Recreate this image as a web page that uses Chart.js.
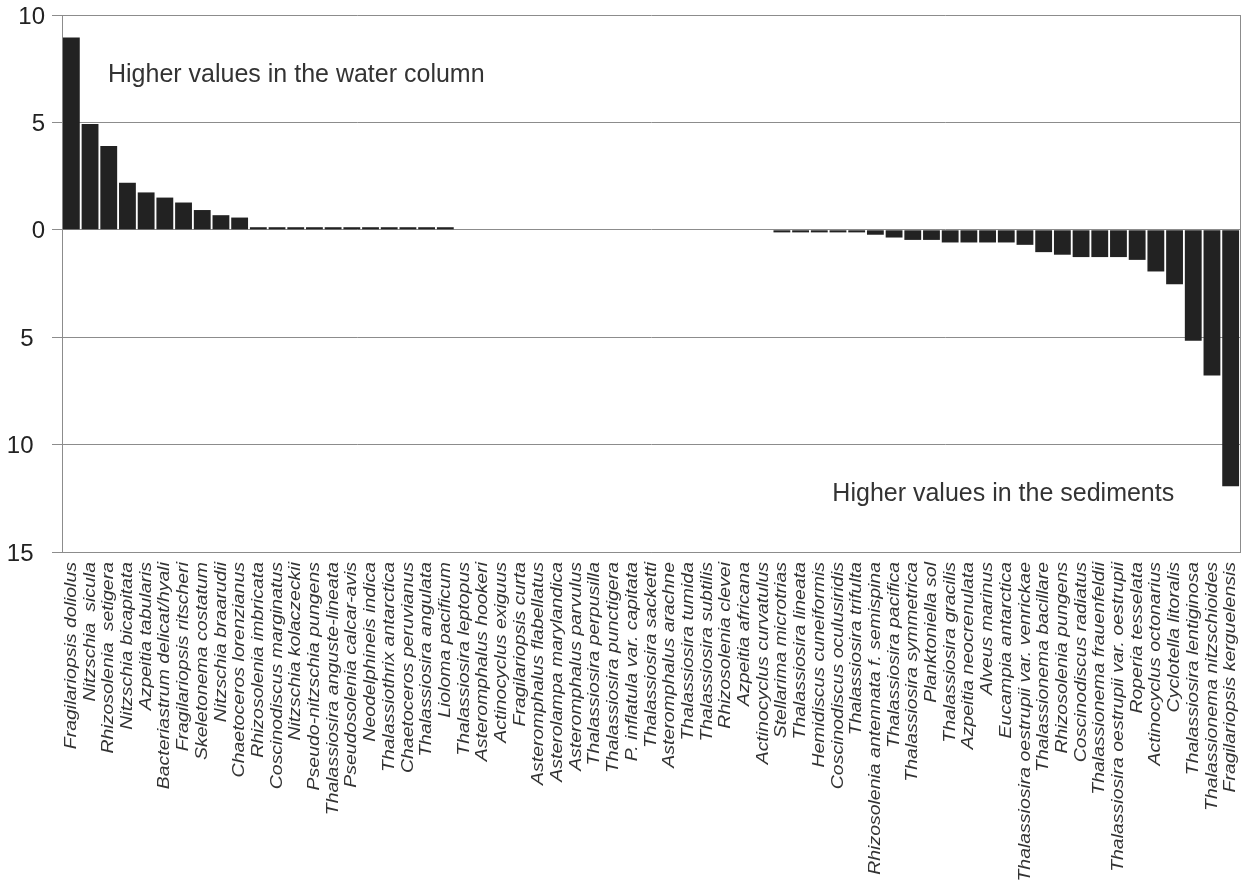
<!DOCTYPE html>
<html>
<head>
<meta charset="utf-8">
<script src="https://cdn.jsdelivr.net/npm/chart.js@4"></script>
<style>
  body { margin: 0; background: #fff; }
  canvas { display: block; }
</style>
</head>
<body>
<canvas id="diatoms" width="1249" height="882"></canvas>
<script>
// species, sorted from water column (positive) to sediments (negative)
var species = [
  "Fragilariopsis doliolus", "Nitzschia  sicula", "Rhizosolenia  setigera", "Nitzschia bicapitata",
  "Azpeitia tabularis", "Bacteriastrum delicat/hyali", "Fragilariopsis ritscheri", "Skeletonema costatum",
  "Nitzschia braarudii", "Chaetoceros lorenzianus", "Rhizosolenia imbricata", "Coscinodiscus marginatus",
  "Nitzschia kolaczeckii", "Pseudo-nitzschia pungens", "Thalassiosira anguste-lineata", "Pseudosolenia calcar-avis",
  "Neodelphineis indica", "Thalassiothrix antarctica", "Chaetoceros peruvianus", "Thalassiosira angulata",
  "Lioloma pacificum", "Thalassiosira leptopus", "Asteromphalus hookeri", "Actinocyclus exiguus",
  "Fragilariopsis curta", "Asteromphalus flabellatus", "Asterolampa marylandica", "Asteromphalus parvulus",
  "Thalassiosira perpusilla", "Thalassiosira punctigera", "P. inflatula var. capitata", "Thalassiosira sacketti",
  "Asteromphalus arachne", "Thalassiosira tumida", "Thalassiosira subtilis", "Rhizosolenia clevei",
  "Azpeitia africana", "Actinocyclus curvatulus", "Stellarima microtrias", "Thalassiosira lineata",
  "Hemidiscus cuneiformis", "Coscinodiscus oculusiridis", "Thalassiosira trifulta", "Rhizosolenia antennata f. semispina",
  "Thalassiosira pacifica", "Thalassiosira symmetrica", "Planktoniella sol", "Thalassiosira gracilis",
  "Azpeitia neocrenulata", "Alveus marinus", "Eucampia antarctica", "Thalassiosira oestrupii var. venrickae",
  "Thalassionema bacillare", "Rhizosolenia pungens", "Coscinodiscus radiatus", "Thalassionema frauenfeldii",
  "Thalassiosira oestrupii var. oestrupii", "Roperia tesselata", "Actinocyclus octonarius", "Cyclotella litoralis",
  "Thalassiosira lentiginosa", "Thalassionema nitzschioides", "Fragilariopsis kerguelensis"
];

var values = [
  8.95, 4.93, 3.9, 2.19, 1.74, 1.5, 1.27, 0.92, 0.68, 0.57,
  0.12, 0.12, 0.12, 0.12, 0.12, 0.12, 0.12, 0.12, 0.12, 0.12, 0.12,
  0, 0, 0, 0, 0, 0, 0, 0, 0, 0, 0, 0, 0, 0, 0, 0, 0,
  -0.12, -0.12, -0.12, -0.12, -0.12, -0.23, -0.36, -0.47, -0.47,
  -0.59, -0.59, -0.59, -0.59, -0.7, -1.04, -1.16, -1.27, -1.27, -1.27,
  -1.4, -1.94, -2.53, -5.16, -6.78, -11.94
];

var yTicks = [-15, -10, -5, 0, 5, 10];

// text notes: [text, category position, value]
var notes = [
  ["Higher values in the water column", 1.96, 7.2],
  ["Higher values in the sediments", 40.7, -12.3]
];

var fontFamily = "'Liberation Sans', Arial, sans-serif";
var gridColor = "#8c8c8c";

// notes in the plot, and the species names (drawn a bit stretched, like the original)
var textPlugin = {
  id: 'texts',
  afterDraw: function(chart) {
    var ctx = chart.ctx;
    var xs = chart.scales.x, ys = chart.scales.y;
    ctx.save();
    ctx.font = "25px " + fontFamily;
    ctx.fillStyle = "#333";
    ctx.textAlign = "left";
    ctx.textBaseline = "middle";
    notes.forEach(function(n) {
      ctx.fillText(n[0], xs.getPixelForValue(n[1]), ys.getPixelForValue(n[2]));
    });
    ctx.restore();

    ctx.save();
    ctx.font = "italic 16.5px " + fontFamily;
    ctx.fillStyle = "#333";
    ctx.textAlign = "right";
    ctx.textBaseline = "middle";
    var top = chart.chartArea.bottom + 10;
    species.forEach(function(name, i) {
      ctx.save();
      ctx.translate(xs.getPixelForValue(i), top);
      ctx.rotate(-Math.PI / 2);
      ctx.scale(1.18, 1);
      ctx.fillText(name, 0, 0);
      ctx.restore();
    });
    ctx.restore();
  }
};

var ctx = document.getElementById('diatoms').getContext('2d');
var chart = new Chart(ctx, {
  type: 'bar',
  data: {
    labels: species,
    datasets: [{
      data: values,
      backgroundColor: "#222222",
      borderWidth: 0,
      barPercentage: 0.9,
      categoryPercentage: 1.0
    }]
  },
  options: {
    responsive: false,
    animation: false,
    layout: { padding: { top: 15, right: 9, left: 0, bottom: 0 } },
    plugins: { legend: { display: false }, tooltip: { enabled: false } },
    scales: {
      x: {
        grid: { display: false, drawTicks: false },
        border: { display: true, color: gridColor, width: 1 },
        ticks: { display: false },
        afterFit: function(scale) { scale.height = 330; }
      },
      y: {
        min: -15,
        max: 10,
        afterBuildTicks: function(scale) {
          scale.ticks = yTicks.map(function(v) { return { value: v }; });
        },
        grid: { color: gridColor, lineWidth: 1, tickLength: 10, drawTicks: true },
        border: { display: true, color: gridColor, width: 1 },
        ticks: {
          padding: 7,
          labelOffset: 2,
          color: "#222",
          font: { family: fontFamily, size: 24 },
          // below zero the original shows plain numbers, set a bit further left
          callback: function(v) { return v < 0 ? Math.abs(v) + " \u2009" : String(v); }
        },
        afterFit: function(scale) {
          scale.width = 62;
          scale.paddingTop = 0;
          scale.paddingBottom = 0;
        }
      },
      y2: {
        position: 'right',
        min: -15,
        max: 10,
        grid: { display: false },
        border: { display: true, color: gridColor, width: 1 },
        ticks: { display: false },
        afterFit: function(scale) {
          scale.width = 0;
          scale.paddingTop = 0;
          scale.paddingBottom = 0;
        }
      }
    }
  },
  plugins: [textPlugin]
});
</script>
</body>
</html>
